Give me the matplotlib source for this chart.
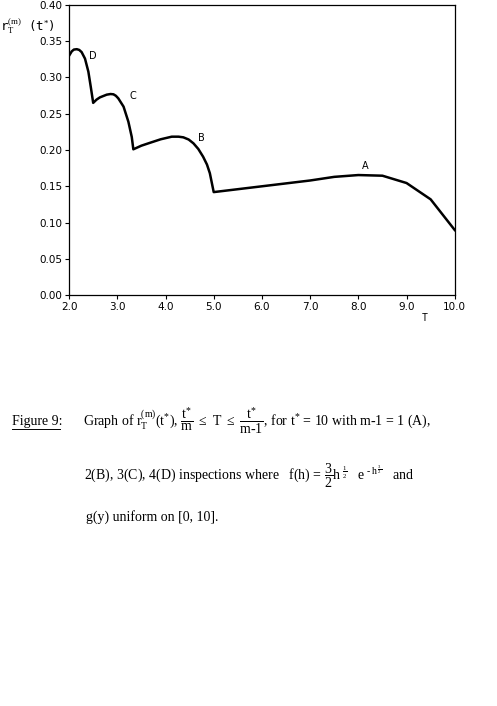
import matplotlib
matplotlib.use("Agg")
import matplotlib.pyplot as plt

# ---- data ----
T_D = [2.0, 2.055, 2.10, 2.16, 2.21, 2.26, 2.33, 2.40, 2.45, 2.5]
r_D = [0.330, 0.336, 0.3385, 0.339, 0.338, 0.335, 0.326, 0.308, 0.287, 0.265]
T_C = [2.5, 2.57, 2.64, 2.78, 2.86, 2.92, 2.97, 3.02, 3.13, 3.23, 3.30, 3.333]
r_C = [0.265, 0.2695, 0.2726, 0.2763, 0.2772, 0.2768, 0.2748, 0.2713, 0.2598, 0.239, 0.218, 0.201]
T_B = [3.333, 3.50, 3.68, 3.90, 4.13, 4.27, 4.37, 4.48, 4.58, 4.68, 4.78, 4.86, 4.92, 5.0]
r_B = [0.201, 0.206, 0.210, 0.2148, 0.2184, 0.2184, 0.2175, 0.2145, 0.2092, 0.2015, 0.1908, 0.180, 0.168, 0.142]
T_A = [5.0, 6.0, 7.0, 7.5, 8.0, 8.5, 9.0, 9.5, 10.0]
r_A = [0.142, 0.150, 0.158, 0.163, 0.1655, 0.1646, 0.1545, 0.132, 0.0897]
curve_labels = ["D", "C", "B", "A"]
label_T = [2.50, 3.32, 4.75, 8.15]
label_r = [0.330, 0.274, 0.216, 0.178]
x_ticks = [2.0, 3.0, 4.0, 5.0, 6.0, 7.0, 8.0, 9.0, 10.0]
y_ticks = [0.00, 0.05, 0.10, 0.15, 0.20, 0.25, 0.30, 0.35, 0.40]

plt.rcParams['mathtext.fontset'] = 'custom'
plt.rcParams['mathtext.rm'] = 'Liberation Serif'
plt.rcParams['mathtext.it'] = 'Liberation Serif'
plt.rcParams['mathtext.bf'] = 'Liberation Serif:bold'

fig = plt.figure(figsize=(4.97, 7.06), dpi=100)
ax = fig.add_axes([0.139, 0.582, 0.776, 0.411])

T_all = T_D + T_C[1:] + T_B[1:] + T_A[1:]
r_all = r_D + r_C[1:] + r_B[1:] + r_A[1:]
ax.plot(T_all, r_all, color='black', lw=1.8, solid_joinstyle='round')

for lab, t, r in zip(curve_labels, label_T, label_r):
    ax.text(t, r, lab, fontsize=7, family='DejaVu Sans', ha='center', va='center')

ax.set_xlim(2.0, 10.0)
ax.set_ylim(0.0, 0.40)
ax.set_xticks(x_ticks)
ax.set_xticklabels([f"{v:.1f}" for v in x_ticks])
ax.set_yticks(y_ticks)
ax.set_yticklabels([f"{v:.2f}" for v in y_ticks])
ax.tick_params(direction='out', length=3, width=0.8, labelsize=7.5, pad=2)
for s in ax.spines.values():
    s.set_linewidth(0.9)

fig.text(425/497, 1 - 318/706, "T", fontsize=7, family='DejaVu Sans Mono', ha='center', va='center')
fig.text(0/497, 1 - 26/706, r"r$_{\mathrm{T}}^{\mathrm{(m)}}$ (t$^{*}$)", fontsize=9,
         family='DejaVu Sans Mono', ha='left', va='center')

# ---- caption ----
cap = dict(fontsize=10, family='Liberation Serif', va='center', ha='left')
fig.text(12/497, 1 - 421/706, "Figure 9:", **cap)
fig.add_artist(plt.Line2D([12/497, 60/497], [1 - 429/706, 1 - 429/706], color='black', lw=0.7))
fig.text(83/497, 1 - 421/706,
         r"Graph of r$_{\mathrm{T}}^{(\mathrm{m})}$(t$^{*}$), $\dfrac{\mathrm{t}^{*}}{\mathrm{m}}$ $\leq$ T $\leq$ "
         r"$\dfrac{\mathrm{t}^{*}}{\mathrm{m\text{-}1}}$, for t$^{*}$ = 10 with m-1 = 1 (A),", **cap)
fig.text(84/497, 1 - 476/706,
         r"2(B), 3(C), 4(D) inspections where   f(h) = $\dfrac{3}{2}$h$^{\ \frac{1}{2}}$   e$^{\ \text{-}\,\mathrm{h}^{\ \frac{3}{2}}}$   and", **cap)
fig.text(86/497, 1 - 517/706, "g(y) uniform on [0, 10].", **cap)

fig.savefig("out.png", dpi=100)
